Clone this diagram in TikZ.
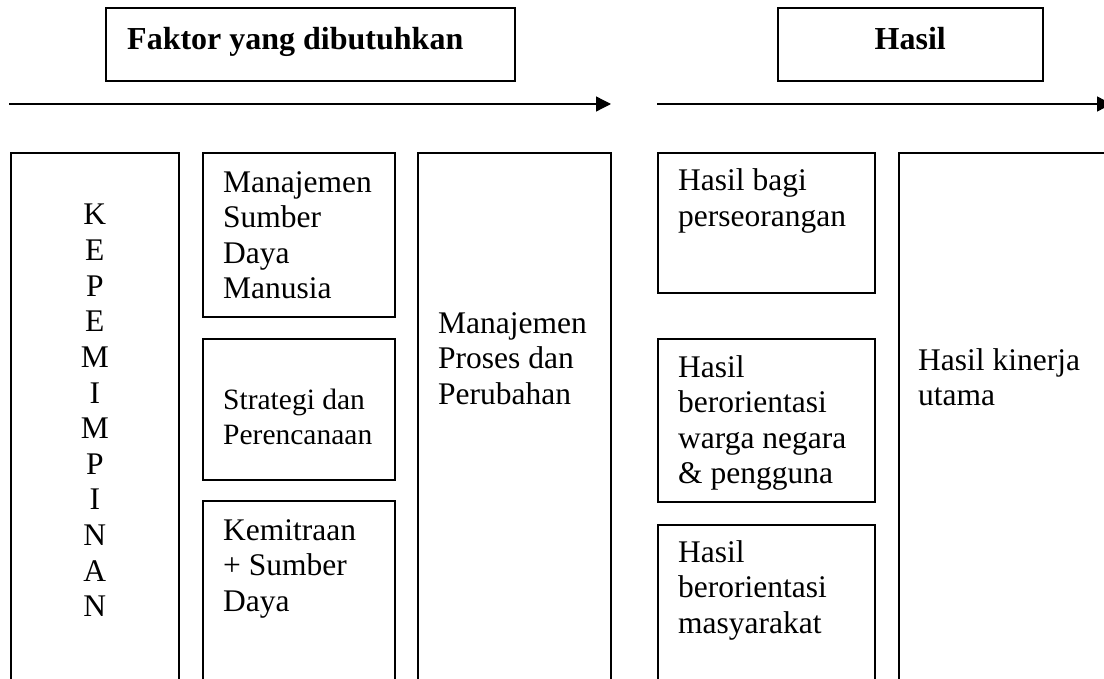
\documentclass[tikz,border=0pt]{standalone}
\usepackage{fontspec}
\setmainfont{Liberation Serif}
\usetikzlibrary{arrows.meta}

\tikzset{
  box/.style={draw, line width=1.6pt, rectangle, anchor=north west, inner sep=0pt},
  txt/.style={anchor=base west, align=left, inner sep=0pt, font=\fontsize{31.5}{35.5}\selectfont},
  smalltxt/.style={txt, font=\fontsize{29.5}{35}\selectfont},
  headtxt/.style={inner sep=0pt, font=\bfseries\fontsize{32}{36}\selectfont},
  letter/.style={anchor=base, inner sep=0pt, font=\fontsize{31.5}{35.5}\selectfont},
  flow/.style={line width=1.3pt, -{Triangle[length=15pt,width=15pt]}}
}

\begin{document}
\begin{tikzpicture}[x=1pt, y=-1pt]
        \useasboundingbox (0,0) rectangle (1104,679);
        \clip (0,0) rectangle (1104,679);
        % Title boxes
        \node[box, minimum width=409, minimum height=73] (faktor) at (105,7) {};
        \node[headtxt, anchor=base west] (faktortxt) at ([shift={(22,43)}]faktor.north west) {Faktor yang dibutuhkan};
        \node[box, minimum width=265, minimum height=73] (hasil) at (777,7) {};
        \node[headtxt, anchor=base] (hasiltxt) at ([shift={(0,43)}]hasil.north) {Hasil};
        % Flow arrows
        \coordinate (faktorstart) at (9,104);
        \coordinate (faktorend) at (611,104);
        \coordinate (hasilstart) at (657,104);
        \coordinate (hasilend) at (1112,104);
        \draw[flow] (faktorstart) -- (faktorend);
        \draw[flow] (hasilstart) -- (hasilend);
        % Kepemimpinan
        \node[box, minimum width=168, minimum height=568] (kep) at (10,152) {};
        \foreach \ch [count=\i from 0] in {K,E,P,E,M,I,M,P,I,N,A,N}
            \node[letter] (kep\i) at ([shift={(0,73+35.6*\i)}]kep.north) {\ch};
        % Enablers (text nodes sit on the baseline of their last line)
        \node[box, minimum width=192, minimum height=164] (sdm) at (202,152) {};
        \node[txt] (sdmtxt) at ([shift={(21,146.5)}]sdm.north west) {Manajemen\\Sumber\\Daya\\Manusia};
        \node[box, minimum width=192, minimum height=141] (strategi) at (202,338) {};
        \node[smalltxt] (strategitxt) at ([shift={(21,106)}]strategi.north west) {Strategi dan\\Perencanaan};
        \node[box, minimum width=192, minimum height=220] (mitra) at (202,500) {};
        \node[txt] (mitratxt) at ([shift={(21,111)}]mitra.north west) {Kemitraan\\+ Sumber\\Daya};
        \node[box, minimum width=193, minimum height=568] (proses) at (417,152) {};
        \node[txt] (prosestxt) at ([shift={(21,252)}]proses.north west) {Manajemen\\Proses dan\\Perubahan};
        % Results
        \node[box, minimum width=217, minimum height=140] (orang) at (657,152) {};
        \node[txt] (orangtxt) at ([shift={(21,74.5)}]orang.north west) {Hasil bagi\\perseorangan};
        \node[box, minimum width=217, minimum height=163] (warga) at (657,338) {};
        \node[txt] (wargatxt) at ([shift={(21,145.5)}]warga.north west) {Hasil\\berorientasi\\warga negara\\\& pengguna};
        \node[box, minimum width=217, minimum height=196] (masy) at (657,524) {};
        \node[txt] (masytxt) at ([shift={(21,109)}]masy.north west) {Hasil\\berorientasi\\masyarakat};
        \node[box, minimum width=230, minimum height=568] (kinerja) at (898,152) {};
        \node[txt] (kinerjatxt) at ([shift={(20,253.5)}]kinerja.north west) {Hasil kinerja\\utama};
    \end{tikzpicture}
\end{document}
